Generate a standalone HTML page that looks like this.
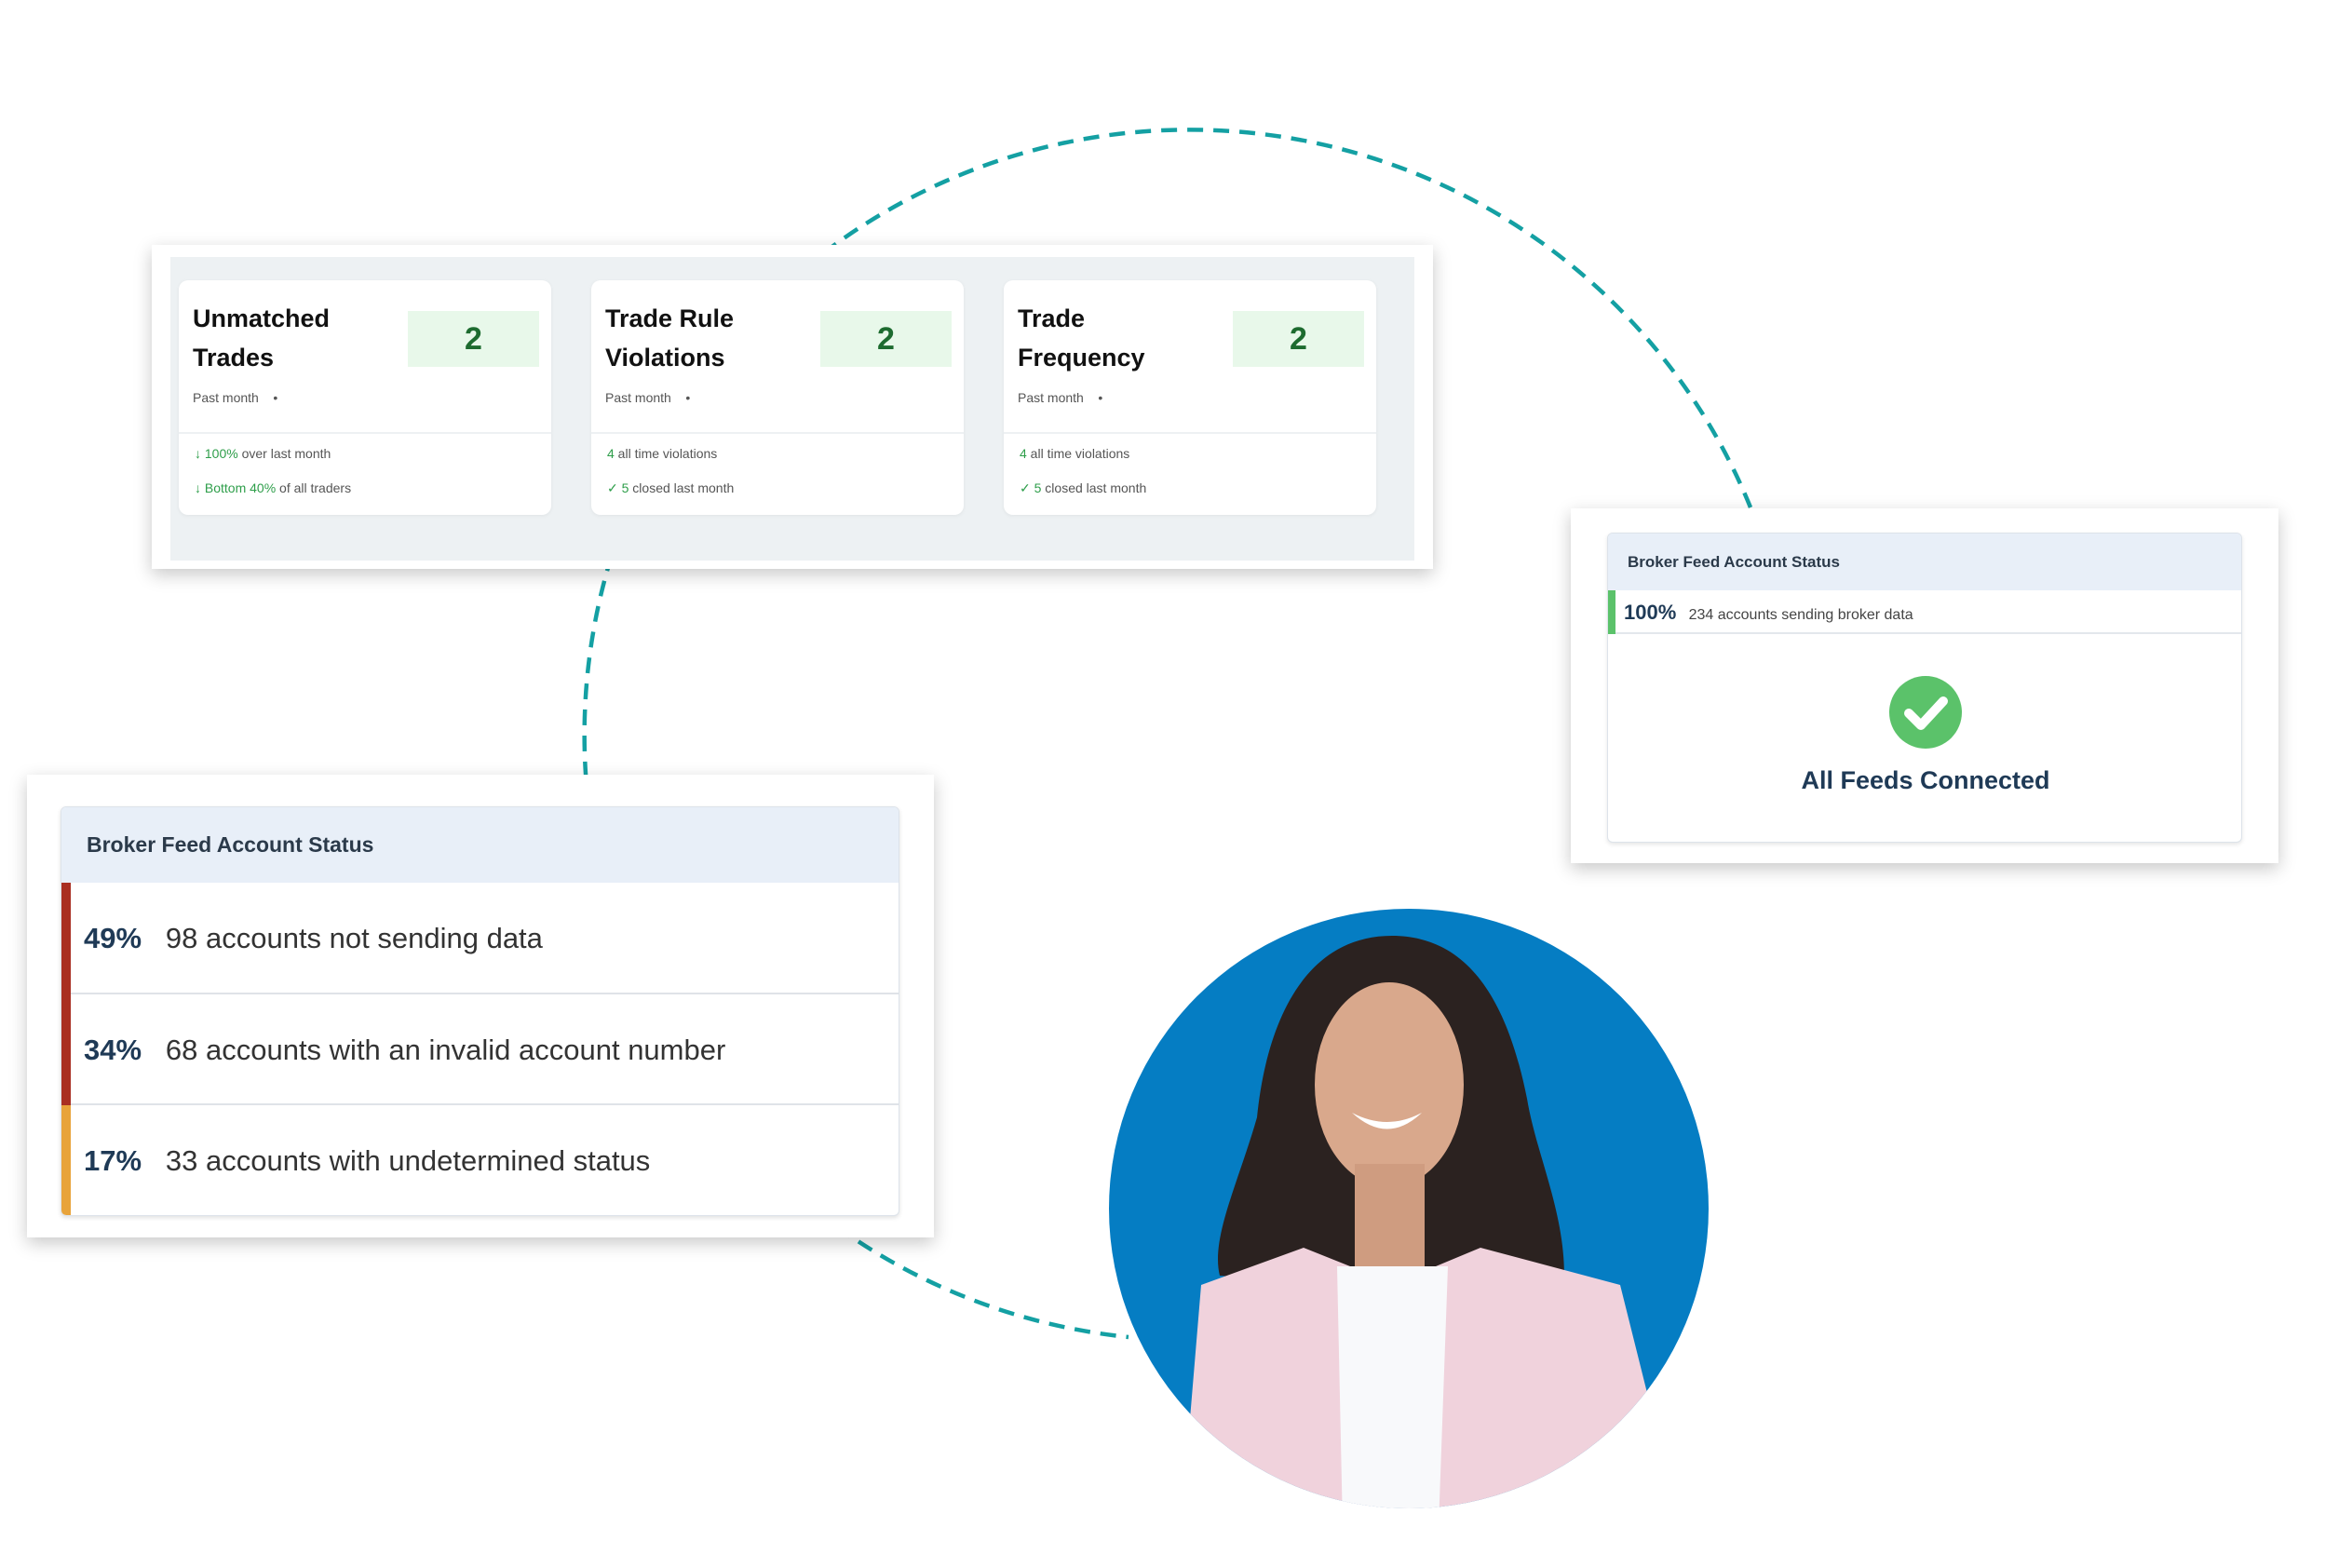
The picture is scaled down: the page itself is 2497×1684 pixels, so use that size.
<!DOCTYPE html>
<html><head><meta charset="utf-8"><style>
*{margin:0;padding:0;box-sizing:border-box}
body{width:2497px;height:1684px;background:#fff;position:relative;overflow:hidden;font-family:"Liberation Sans",sans-serif}
.abs{position:absolute}
.panel{background:#fff;box-shadow:0 6px 18px rgba(0,0,0,.22)}
.card{background:#fff;border-radius:10px;box-shadow:0 1px 4px rgba(0,0,0,.06)}
.t{font-weight:bold;color:#111;font-size:27px;line-height:42px}
.sm{font-size:14px;color:#555}
.g{color:#2e9e4a}
.box{background:#e8f8ea;color:#1d6b2f;font-size:34px;font-weight:bold;text-align:center;line-height:60px}
</style></head><body>
<svg class="abs" style="left:0;top:0" width="2497" height="1684">
<path d="M1880 545 A650 650 0 1 0 1212 1436" fill="none" stroke="#14a0a3" stroke-width="4.5" stroke-dasharray="17 11"/>
</svg>

<!-- top panel -->
<div class="abs panel" style="left:163px;top:263px;width:1376px;height:348px">
 <div class="abs" style="left:20px;top:13px;width:1336px;height:326px;background:#edf1f3"></div>
</div>
<div class="abs card" style="left:192px;top:301px;width:400px;height:252px">
 <div class="abs t" style="left:15px;top:20px">Unmatched<br>Trades</div>
 <div class="abs box" style="left:246px;top:33px;width:141px;height:60px">2</div>
 <div class="abs sm" style="left:15px;top:118px">Past month &nbsp;&nbsp;&nbsp;•</div>
 <div class="abs" style="left:0;top:163px;width:400px;height:2px;background:#eef1f3"></div>
 <div class="abs sm" style="left:17px;top:178px"><span class="g">↓ 100%</span> over last month</div>
 <div class="abs sm" style="left:17px;top:215px"><span class="g">↓ Bottom 40%</span> of all traders</div>
</div>
<div class="abs card" style="left:635px;top:301px;width:400px;height:252px">
 <div class="abs t" style="left:15px;top:20px">Trade Rule<br>Violations</div>
 <div class="abs box" style="left:246px;top:33px;width:141px;height:60px">2</div>
 <div class="abs sm" style="left:15px;top:118px">Past month &nbsp;&nbsp;&nbsp;•</div>
 <div class="abs" style="left:0;top:163px;width:400px;height:2px;background:#eef1f3"></div>
 <div class="abs sm" style="left:17px;top:178px"><span class="g">4</span> all time violations</div>
 <div class="abs sm" style="left:17px;top:215px"><span class="g">✓ 5</span> closed last month</div>
</div>
<div class="abs card" style="left:1078px;top:301px;width:400px;height:252px">
 <div class="abs t" style="left:15px;top:20px">Trade<br>Frequency</div>
 <div class="abs box" style="left:246px;top:33px;width:141px;height:60px">2</div>
 <div class="abs sm" style="left:15px;top:118px">Past month &nbsp;&nbsp;&nbsp;•</div>
 <div class="abs" style="left:0;top:163px;width:400px;height:2px;background:#eef1f3"></div>
 <div class="abs sm" style="left:17px;top:178px"><span class="g">4</span> all time violations</div>
 <div class="abs sm" style="left:17px;top:215px"><span class="g">✓ 5</span> closed last month</div>
</div>

<!-- right panel -->
<div class="abs panel" style="left:1687px;top:546px;width:760px;height:381px"></div>
<div class="abs" style="left:1726px;top:572px;width:682px;height:333px;background:#fff;border:1px solid #dde3ea;border-radius:6px;box-shadow:0 2px 5px rgba(0,0,0,.1);overflow:hidden">
 <div class="abs" style="left:0;top:0;width:682px;height:61px;background:#e8eff8;font-size:17px;font-weight:bold;color:#2b3a4a;line-height:61px;padding-left:21px">Broker Feed Account Status</div>
 <div class="abs" style="left:0;top:61px;width:682px;height:47px;border-bottom:2px solid #e3e7ec;line-height:47px;padding-left:17px;font-size:16px;color:#444"><span style="font-size:22px;font-weight:bold;color:#1f3a56">100%</span>&nbsp;&nbsp; 234 accounts sending broker data</div>
 <div class="abs" style="left:0;top:61px;width:8px;height:47px;background:#5bc26a"></div>
 <svg class="abs" style="left:301px;top:152px" width="80" height="80"><circle cx="40" cy="40" r="39" fill="#5bc26a"/><path d="M22 41 L35 54 L59 28" stroke="#fff" stroke-width="10" fill="none" stroke-linecap="round" stroke-linejoin="round"/></svg>
 <div class="abs" style="left:0;top:250px;width:682px;text-align:center;font-size:27px;font-weight:bold;color:#1f3a56">All Feeds Connected</div>
</div>

<!-- left panel -->
<div class="abs panel" style="left:29px;top:832px;width:974px;height:497px"></div>
<div class="abs" style="left:65px;top:866px;width:901px;height:440px;background:#fff;border:1px solid #dde3ea;border-radius:6px;box-shadow:0 2px 5px rgba(0,0,0,.12);overflow:hidden">
 <div class="abs" style="left:0;top:0;width:901px;height:81px;background:#e8eff8;font-size:23px;font-weight:bold;color:#2b3a4a;line-height:81px;padding-left:27px">Broker Feed Account Status</div>
 <div class="abs" style="left:0;top:81px;width:901px;height:120px;border-bottom:2px solid #dfe3e8;line-height:120px;padding-left:24px;font-size:31px;color:#333"><b style="color:#1f3a56">49%</b>&nbsp;&nbsp; 98 accounts not sending data</div>
 <div class="abs" style="left:0;top:201px;width:901px;height:119px;border-bottom:2px solid #dfe3e8;line-height:119px;padding-left:24px;font-size:31px;color:#333"><b style="color:#1f3a56">34%</b>&nbsp;&nbsp; 68 accounts with an invalid account number</div>
 <div class="abs" style="left:0;top:320px;width:901px;height:120px;line-height:120px;padding-left:24px;font-size:31px;color:#333"><b style="color:#1f3a56">17%</b>&nbsp;&nbsp; 33 accounts with undetermined status</div>
 <div class="abs" style="left:0;top:81px;width:10px;height:239px;background:#a92f22"></div>
 <div class="abs" style="left:0;top:320px;width:10px;height:120px;background:#e8a33a"></div>
</div>

<!-- photo -->
<svg class="abs" style="left:0;top:0" width="2497" height="1684">
<defs><clipPath id="c"><circle cx="1513" cy="1298" r="322"/></clipPath></defs>
<circle cx="1513" cy="1298" r="322" fill="#057dc3"/>
<g clip-path="url(#c)">
 <path d="M1495 1005 C1400 1005 1360 1100 1350 1200 C1330 1270 1300 1330 1310 1370 L1440 1380 L1560 1360 L1680 1370 C1680 1300 1650 1240 1640 1180 C1620 1080 1580 1005 1495 1005Z" fill="#2b2220"/>
 <ellipse cx="1492" cy="1165" rx="80" ry="110" fill="#d9a88c"/>
 <rect x="1455" y="1250" width="75" height="110" fill="#cf9c80"/>
 <path d="M1270 1620 L1290 1380 L1400 1340 L1450 1360 L1530 1365 L1590 1340 L1740 1380 L1770 1500 L1760 1640Z" fill="#f0d2dc"/>
 <path d="M1436 1360 L1555 1360 L1545 1640 L1442 1640Z" fill="#f8f9fb"/>
 <path d="M1452 1195 Q1490 1230 1527 1195 Q1490 1215 1452 1195Z" fill="#fff"/>
</g>
</svg>
</body></html>
